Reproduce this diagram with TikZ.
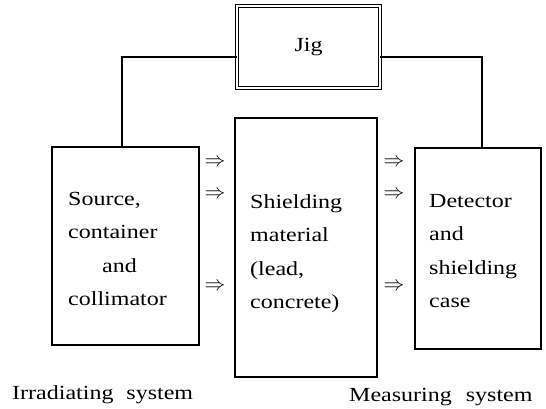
\documentclass[tikz,border=0pt]{standalone}
\usepackage{fontspec}
\setmainfont[FakeStretch=1.2]{Liberation Serif}
\begin{document}
\begin{tikzpicture}[x=1pt,y=-1pt,
	box/.style={draw,line width=1.2pt,rectangle,inner sep=0pt},
	txt/.style={anchor=north west,inner sep=0pt,align=left,font=\fontsize{20}{33.5}\selectfont},
	arr/.style={inner sep=0pt,font=\fontsize{20}{20}\selectfont},
	sys/.style={anchor=base west,inner sep=0pt,font=\fontsize{20}{22}\selectfont}]
	
	\useasboundingbox (0,0) rectangle (546,408);
	
	% jig on top
	\node[box,line width=0.8pt,double,double distance=2.2pt,minimum width=143pt,minimum height=82pt,
		font=\fontsize{20}{22}\selectfont] (jig) at (308.5,47) {Jig};
	
	% the three boxes
	\node[box,minimum width=147pt,minimum height=198pt] (src) at (125.5,246) {};
	\node[box,minimum width=142pt,minimum height=259pt] (shield) at (306,247.5) {};
	\node[box,minimum width=126pt,minimum height=201pt] (det) at (478,248.5) {};
	
	\node[txt] (srctxt) at (68,192) {Source,\\container\\\hspace*{34pt}and\\collimator};
	\node[txt] (shieldtxt) at (250,194) {Shielding\\material\\(lead,\\concrete)};
	\node[txt] (dettxt) at (429,194) {Detector\\and\\shielding\\case};
	
	% jig holds source and detector
	\draw[line width=1.2pt] ([yshift=-10pt]jig.west) -| ([xshift=-3.5pt]src.north);
	\draw[line width=1.2pt] ([yshift=-10pt]jig.east) -| ([xshift=4pt]det.north);
	
	% radiation through the shield
	\node[arr] (a1) at (215,163) {$\Rightarrow$};
	\node[arr] (a2) at (215,195) {$\Rightarrow$};
	\node[arr] (a3) at (215,287) {$\Rightarrow$};
	\node[arr] (b1) at (394,163) {$\Rightarrow$};
	\node[arr] (b2) at (394,195) {$\Rightarrow$};
	\node[arr] (b3) at (394,287) {$\Rightarrow$};
	
	\node[sys] (irr) at (12,399) {Irradiating\hspace{7pt} system};
	\node[sys] (meas) at (349,401) {Measuring\hspace{8pt} system};
	
\end{tikzpicture}
\end{document}
